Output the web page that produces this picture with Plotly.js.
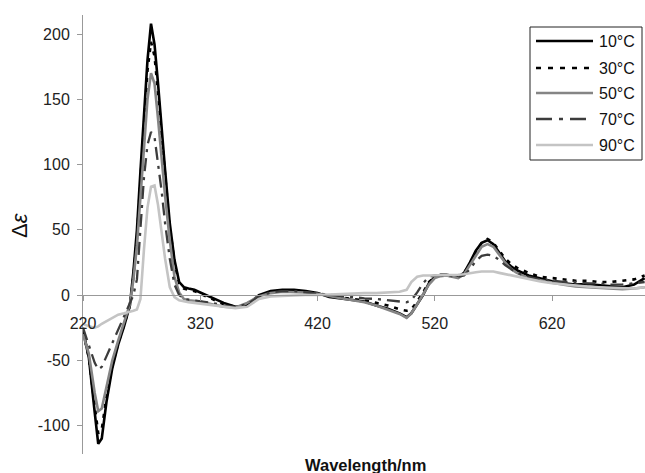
<!DOCTYPE html>
<html>
<head>
<meta charset="utf-8">
<script src="https://cdn.plot.ly/plotly-3.0.1.min.js"></script>
<style>html,body{margin:0;padding:0;background:#fff;}#chart{width:645px;height:473px;}</style>
</head>
<body>
<div id="chart"></div>
<script>
// Wavelength sampling (nm)
const wavelength = [220,225,230,233,236,240,245,250,255,260,263,266,269,272,275,278,281,284,287,290,294,298,302,306,310,315,320,330,340,350,360,370,380,390,400,410,420,430,440,450,460,470,480,490,496,500,505,510,515,520,525,530,540,545,550,555,560,565,570,575,580,585,590,600,610,620,630,640,650,660,670,680,690,699];

const seriesNames = ["10°C","30°C","50°C","70°C","90°C"];

const de10 = [-27,-48,-90,-114,-110,-82,-56,-38,-24,-8,18,50,95,140,180,208,192,162,126,96,55,27,10,6,5,4,2,-2,-6,-9,-8,0,3,4,4,3,1.5,-1.5,-2.5,-3.5,-5,-8,-10.5,-14,-17,-14,-7,0,9,14,15.5,15.5,14,17,25,34,40,42,39,32,26,22,19,15,12.5,10.5,9,8,8.5,7.5,6.5,6,8,13];

const de30 = [-28,-48,-85,-106,-103,-78,-54,-37,-23,-8,14,44,88,132,172,194,183,155,120,92,53,25,9,5,4,3,1,-3,-7,-9,-8,-1,2.5,3.5,3.5,2.5,1,-1,-2,-3,-4,-6,-8,-11,-12,-11,-5,2,10,14,15,15,14,17,24,33,40,43,40,34,28,24,21,17,14,13,12,11,11,10,10,11,12,15];

const de50 = [-30,-45,-75,-89,-87,-70,-50,-35,-21,-7,12,38,75,115,150,170,162,135,104,76,42,14,2,-3,-4,-4.5,-5,-7,-9,-9.5,-6,-1,1.5,2.5,2.5,2,1,-1,-2.5,-4,-5.5,-8,-11,-14.5,-17.5,-14,-7,0,8,13,14.5,15,13,16,23,31,37,39,37,31,25,20,17,13,11,9.5,8,6.5,6,5.5,5,4.5,5,6];

const de70 = [-25,-38,-52,-57,-55,-47,-37,-27,-17,-7,0,12,50,90,115,125,121,102,80,55,28,8,0,-3,-3.5,-4,-4.5,-6,-8,-9,-7,-1,2,3,3,2,1,0,-1,-2,-2.5,-3,-4,-5,-5.5,-4,2,9,14,15,15,15,14,15,20,26,30,31,30,27,23,20,17,14,12,11,10,10,9,9,8,8,9,10];

const de90 = [-22,-24,-25,-24,-22,-20,-17,-15,-14,-13,-12,-11,-3,35,67,83,84,69,47,28,6,-1.5,-4,-5,-5.5,-6,-6.5,-7.5,-9,-10,-9,-3,-1,-0.5,-0.5,0,0,0.5,0.5,1,1.5,1.5,2,2.5,4,10,14,15,15,15,15,15,15.5,16,17,17.5,18,18,18,17,16,15,14,12,10.5,9,8,7,6.5,6,5.5,5,5,6];

const xTicks = [220,320,420,520,620];
const xTickText = ["220","320","420","520","620"];
const yTicks = [-100,-50,0,50,100,150,200];
const yTickText = ["-100","-50","0","50","100","150","200"];

const values = [de10, de30, de50, de70, de90];
const styles = [
  {color:'#000000', dash:'solid', width:2.6},
  {color:'#000000', dash:'4px,6px', width:2.6},
  {color:'#858585', dash:'solid', width:2.6},
  {color:'#3c3c3c', dash:'13px,6px,3px,6px', width:2.3},
  {color:'#c4c4c4', dash:'solid', width:2.6}
];

const traces = seriesNames.map((n,i)=>({
  x: wavelength, y: values[i], type:'scatter', mode:'lines', name:n,
  showlegend:false,
  line: Object.assign({shape:'linear'}, styles[i])
}));

const FONT = 'Arial, "Liberation Sans", sans-serif';
const yMin = -121.8, yMax = 214.6;
// pixel -> paper helpers for the plot area (l=83, plot 562 wide; t=15, plot 439 tall)
const px = v => (v-83)/562;
const py = v => (454-v)/439;

// Legend drawn as shapes + annotations
const legendRows = [41, 68, 93, 119, 145];
const legendDash = ['solid','5px,7px','solid','16px,7px,4px,7px','solid'];
const shapes = [
  {type:'rect', xref:'paper', yref:'paper', x0:px(530), x1:px(642), y0:py(27), y1:py(160),
   line:{color:'#222', width:1}, fillcolor:'#ffffff', layer:'above'}
];
const annotations = [
  {text:'Δ<i>ε</i>', xref:'paper', yref:'paper', x:px(20), y:py(226),
   xanchor:'center', yanchor:'middle', textangle:-90, showarrow:false,
   font:{family:FONT, size:22, color:'#111'}},
  {text:'<b>Wavelength/nm</b>', xref:'paper', yref:'paper', x:px(365), y:py(465),
   xanchor:'center', yanchor:'middle', showarrow:false,
   font:{family:FONT, size:16.5, color:'#111'}}
];
seriesNames.forEach((n,i)=>{
  shapes.push({type:'line', xref:'paper', yref:'paper', x0:px(536), x1:px(593),
    y0:py(legendRows[i]), y1:py(legendRows[i]), layer:'above',
    line:{color:styles[i].color, width:styles[i].width, dash:legendDash[i]}});
  annotations.push({text:n, xref:'paper', yref:'paper', x:px(597), y:py(legendRows[i]),
    xanchor:'left', yanchor:'middle', showarrow:false,
    font:{family:FONT, size:16, color:'#111'}});
});

const layout = {
  width:645, height:473,
  margin:{l:83, r:0, t:15, b:19, pad:0},
  paper_bgcolor:'#ffffff', plot_bgcolor:'#ffffff',
  font:{family:FONT, size:16, color:'#222'},
  showlegend:false,
  xaxis:{range:[220, 699.3], anchor:'free', position:(0-yMin)/(yMax-yMin),
    tickvals:xTicks, ticktext:xTickText, ticks:'outside', ticklen:5, tickwidth:1, tickcolor:'#999',
    showline:true, linecolor:'#999', linewidth:1, showgrid:false, zeroline:false,
    ticklabelstandoff:9, tickfont:{family:FONT, size:16, color:'#222'}},
  yaxis:{range:[yMin, yMax], tickvals:yTicks, ticktext:yTickText, ticks:'outside', ticklen:5, tickwidth:1, tickcolor:'#999',
    showline:true, linecolor:'#999', linewidth:1, showgrid:false, zeroline:false,
    ticklabelstandoff:4, tickfont:{family:FONT, size:16, color:'#222'}},
  shapes: shapes,
  annotations: annotations
};

Plotly.newPlot('chart', traces, layout, {staticPlot:true, displayModeBar:false});
</script>
</body>
</html>
